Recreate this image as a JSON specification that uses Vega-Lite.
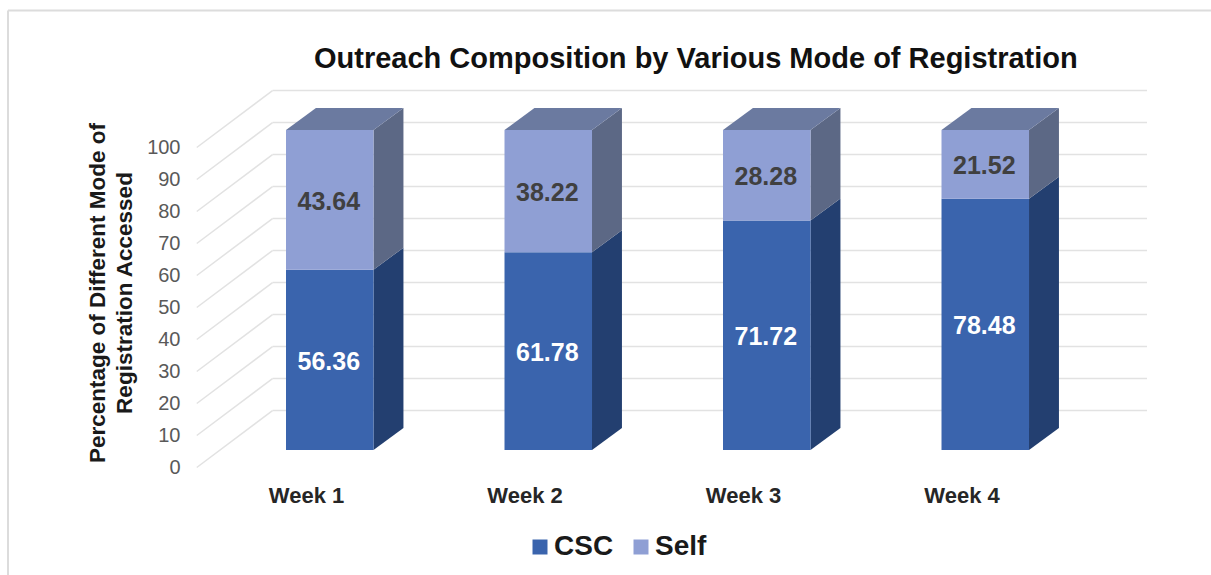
{
"$schema":"https://vega.github.io/schema/vega-lite/v6.json",
"autosize":{"type":"none"},
"padding":{"left":8,"top":10,"right":11,"bottom":0},
"width":1192,"height":565,
"background":"white",
"config":{"view":{"stroke":null},"font":"Liberation Sans"},
"title":{"text":"Outreach Composition by Various Mode of Registration","anchor":"start","frame":"group","dx":306,"offset":-64,"fontSize":29,"fontWeight":"bold","color":"#111111","font":"Liberation Sans"},
"datasets":{
"bars":[
{"week":1,"mode":"CSC","value":56.36},{"week":1,"mode":"Self","value":43.64},
{"week":2,"mode":"CSC","value":61.78},{"week":2,"mode":"Self","value":38.22},
{"week":3,"mode":"CSC","value":71.72},{"week":3,"mode":"Self","value":28.28},
{"week":4,"mode":"CSC","value":78.48},{"week":4,"mode":"Self","value":21.52}],
"ticks":[{"tick":0},{"tick":10},{"tick":20},{"tick":30},{"tick":40},{"tick":50},{"tick":60},{"tick":70},{"tick":80},{"tick":90},{"tick":100}],
"frame":[{"part":"border"}]
},
"encoding":{},
"layer":[
{"data":{"name":"ticks"},"transform":[{"calculate":"datum.tick+17.8","as":"wall"}],
 "mark":{"type":"rule","color":"#e2e2e2","strokeWidth":1.5},
 "encoding":{
  "x":{"datum":0.8467,"type":"quantitative","scale":{"domain":[-0.3638,5.0915],"nice":false,"zero":false},
    "axis":{"values":[1,2,3,4],"labelExpr":"'Week ' + datum.value","title":null,"domain":false,"ticks":false,"grid":false,"orient":"bottom","offset":-90,"labelPadding":0,"labelFontSize":22,"labelFontWeight":"bold","labelColor":"#262626","labelFont":"Liberation Sans"}},
  "x2":{"datum":4.849},
  "y":{"field":"wall","type":"quantitative","scale":{"domain":[-33.59,142.97],"nice":false,"zero":false},
    "axis":{"values":[0,10,20,30,40,50,60,70,80,90,100],"title":["Percentage of Different Mode of","Registration Accessed"],"domain":false,"ticks":false,"grid":false,"orient":"left","offset":-172,"labelPadding":0,"labelFontSize":20,"labelColor":"#595959","labelFont":"Liberation Sans","titleFontSize":22.5,"titleFont":"Liberation Sans","titleFontWeight":"bold","titleColor":"#1a1a1a","titlePadding":10,"titleLineHeight":27}}
 }},
{"data":{"name":"ticks"},"transform":[{"calculate":"datum.tick+17.8","as":"wall"}],
 "mark":{"type":"rule","color":"#e2e2e2","strokeWidth":1.5},
 "encoding":{"x":{"datum":0.5,"type":"quantitative"},"x2":{"datum":0.8467},"y":{"field":"tick","type":"quantitative"},"y2":{"field":"wall"}}},
{"data":{"name":"frame"},"mark":{"type":"rule","color":"#dcdcdc","strokeWidth":2},
 "encoding":{"x":{"datum":-0.3638,"type":"quantitative"},"x2":{"datum":5.142},"y":{"datum":142.8,"type":"quantitative"}}},
{"data":{"name":"frame"},"mark":{"type":"rule","color":"#dcdcdc","strokeWidth":2},
 "encoding":{"x":{"datum":-0.3638,"type":"quantitative"},"y":{"datum":142.8,"type":"quantitative"},"y2":{"datum":-33.59}}},
{"data":{"name":"bars"},
 "transform":[
  {"stack":"value","groupby":["week"],"sort":[{"field":"mode"}],"as":["v0","v1"]},
  {"calculate":"[0,1]","as":"depth"},{"flatten":["depth"]},
  {"calculate":"datum.week+0.3090+datum.depth*0.137","as":"px"},
  {"calculate":"datum.v0+5.47+datum.depth*6.875","as":"py0"},
  {"calculate":"datum.v1+5.47+datum.depth*6.875","as":"py1"},
  {"calculate":"datum.week+'-'+datum.mode","as":"key"}],
 "mark":{"type":"area","interpolate":"linear","line":false},
 "encoding":{"x":{"field":"px","type":"quantitative"},"y":{"field":"py1","type":"quantitative","stack":null},"y2":{"field":"py0"},"detail":{"field":"key"},
  "color":{"condition":{"test":"datum.mode==='CSC'","value":"#233f70"},"value":"#5c6885"}}},
{"data":{"name":"bars"},
 "transform":[
  {"filter":"datum.mode==='Self'"},
  {"calculate":"[0,1,2,3]","as":"corner"},{"flatten":["corner"]},
  {"calculate":"datum.week-0.0915+[0,0.137,0.4005,0.5375][datum.corner]","as":"px"},
  {"calculate":"105.47+[0,6.875,6.875,6.875][datum.corner]","as":"py1"},
  {"calculate":"105.47+[0,0,0,6.875][datum.corner]","as":"py0"}],
 "mark":{"type":"area","interpolate":"linear","color":"#6b7aa0"},
 "encoding":{"x":{"field":"px","type":"quantitative"},"y":{"field":"py1","type":"quantitative","stack":null},"y2":{"field":"py0"},"detail":{"field":"week"}}},
{"data":{"name":"bars"},
 "transform":[
  {"stack":"value","groupby":["week"],"sort":[{"field":"mode"}],"as":["v0","v1"]},
  {"calculate":"datum.week-0.0915","as":"left"},{"calculate":"datum.week+0.3090","as":"right"},
  {"calculate":"datum.v0+5.47","as":"py0"},{"calculate":"datum.v1+5.47","as":"py1"}],
 "mark":{"type":"rect"},
 "encoding":{"x":{"field":"left","type":"quantitative"},"x2":{"field":"right"},"y":{"field":"py1","type":"quantitative"},"y2":{"field":"py0"},
  "color":{"field":"mode","type":"nominal","scale":{"domain":["CSC","Self"],"range":["#3a64ad","#8f9fd4"]},
   "legend":{"title":null,"orient":"none","legendX":518,"legendY":523,"direction":"horizontal","symbolType":"square","symbolSize":225,"symbolStrokeWidth":0,"labelFontSize":28,"labelFontWeight":"bold","labelColor":"#1a1a1a","labelFont":"Liberation Sans","labelOffset":0,"columnPadding":13}}}},
{"data":{"name":"bars"},
 "transform":[
  {"stack":"value","groupby":["week"],"sort":[{"field":"mode"}],"as":["v0","v1"]},
  {"calculate":"datum.week+0.1045","as":"cx"},{"calculate":"(datum.v0+datum.v1)/2+5.47","as":"cy"}],
 "mark":{"type":"text","fontSize":25,"fontWeight":"bold","font":"Liberation Sans","align":"center","baseline":"middle","dy":2},
 "encoding":{"x":{"field":"cx","type":"quantitative"},"y":{"field":"cy","type":"quantitative"},"text":{"field":"value","type":"quantitative","format":".2f"},
  "color":{"condition":{"test":"datum.mode==='CSC'","value":"#ffffff"},"value":"#404040"}}}
]
}
